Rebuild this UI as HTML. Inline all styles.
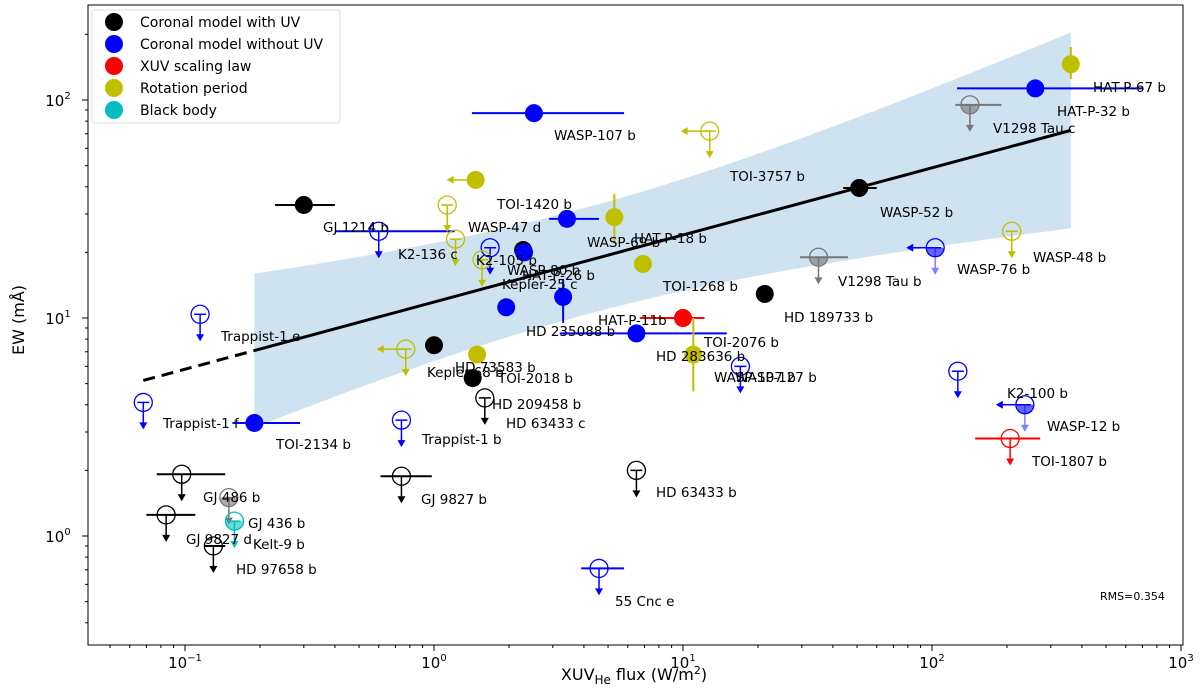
<!DOCTYPE html>
<html><head><meta charset="utf-8">
<style>
body{margin:0;background:#fff;}
svg{display:block;font-family:"DejaVu Sans","Liberation Sans",sans-serif;}
</style></head>
<body>
<svg id="chart" width="1200" height="688" viewBox="0 0 1200 688" xmlns="http://www.w3.org/2000/svg">
<g id="band-layer"></g>
<g id="fit-layer"></g>
<g id="pts"></g>
<g id="labels"></g>
<rect x="88" y="5" width="1095" height="640" fill="none" stroke="#000" stroke-width="1"/>
<g id="axes"></g>
<text x="1100" y="600" font-size="11">RMS=0.354</text>
<g>
<rect x="92" y="10" width="248" height="113" fill="#fff" stroke="#ddd" rx="3"/>
<circle cx="114" cy="22" r="9" fill="#000"/><text x="140" y="27" font-size="14">Coronal model with UV</text>
<circle cx="114" cy="44" r="9" fill="#0000ff"/><text x="140" y="49" font-size="14">Coronal model without UV</text>
<circle cx="114" cy="66" r="9" fill="#ff0000"/><text x="140" y="71" font-size="14">XUV scaling law</text>
<circle cx="114" cy="88" r="9" fill="#bfbf00"/><text x="140" y="93" font-size="14">Rotation period</text>
<circle cx="114" cy="110" r="9" fill="#00bfbf"/><text x="140" y="115" font-size="14">Black body</text>
</g>
<text x="634" y="680" font-size="16" text-anchor="middle">XUV<tspan font-size="12" dy="4">He</tspan><tspan dy="-4"> flux (W/m</tspan><tspan font-size="11" dy="-6">2</tspan><tspan dy="6">)</tspan></text>
<text transform="translate(24,320) rotate(-90)" font-size="16" text-anchor="middle">EW (mÅ)</text>
</svg>
<script>
// ---- data ----
const names=["GJ 1214 b*","WASP-47 d*","Kepler bk","TOI-2018 b*","WASP-52 b*","HD 189733 b*","WASP-107 b*","TOI-1420 b*","K2-105 bf","blue1","blue2","HD 235088 b*","TOI-2134 b*","HAT-P-32 b*","HAT-P-11b*","HAT-P-67 b*","y1","WASP-69 b*","HAT-P-18 y","HD 73583 b*","HD 283636 b*","GJ 1214 b","K2-105 b","Trappist-1 e","Trappist-1 f","Trappist-1 b","WASP-76 b","K2-100 b","WASP-12 b","55 Cnc e","TOI-2076 b","HD 63433 c","GJ 486 b","GJ 9827 d","HD 97658 b","GJ 9827 b","HD 63433 b","GJ 436 b","V1298 Tau c","V1298 Tau b","Kelt-9 b","Kepler-68 b","yo1","K2-136 c","yo2","TOI-3757 b","WASP-48 b","TOI-1807 b"];
const fluxes=[0.30,2.28,1.0,1.43,51,21.3,2.52,3.42,2.3,1.95,3.3,6.5,0.19,260,10,361,1.47,5.3,6.9,1.49,11,0.6,1.68,0.115,0.068,0.74,103,127,236,4.6,17,1.6,0.097,0.084,0.13,0.74,6.5,0.15,142,35,0.158,0.77,1.13,1.22,1.56,12.8,209,206];
const ews=[33,20.5,7.5,5.3,39.5,12.9,87,28.5,20,11.2,12.5,8.5,3.3,113,10,146,43,29,17.7,6.8,6.8,25,21,10.4,4.1,3.4,21,5.7,4,0.71,6,4.3,1.92,1.25,0.9,1.88,2.0,1.5,95,19,1.17,7.2,33,23,18.5,72,25,2.8];
const colors=["k","k","k","k","k","k","b","b","b","b","b","b","b","b","r","y","y","y","y","y","y","b","b","b","b","b","b","b","b","b","b","k","k","k","k","k","k","g","g","g","c","y","y","y","y","y","y","r"];
const kinds=["f","f","f","f","f","f","f","f","f","f","f","f","f","f","f","f","f","f","f","f","f","o","o","o","o","o","h","o","h","o","o","o","o","o","o","o","o","h","h","h","h","o","o","o","o","o","o","o"];
const downLim=[0,0,0,0,0,0,0,0,0,0,0,0,0,0,0,0,0,0,0,0,0,1,1,1,1,1,1,1,1,1,1,1,1,1,1,1,1,1,1,1,1,1,1,1,1,1,1,1];
const leftLim=[0,0,0,0,0,0,0,0,0,0,0,0,0,0,0,0,1,0,0,0,0,0,0,0,0,0,1,0,1,0,0,0,0,0,0,0,0,0,0,0,0,1,0,0,0,1,0,0];
const xLo=[0.23,0,0.95,0,44,0,1.42,2.9,0,0,0,3.2,0.155,126,6.7,0,0,0,0,0,0,0.4,0,0,0,0,0,0,0,3.9,0,0,0.077,0.070,0.12,0.61,0,0,124,29.5,0,0,0,0,0,0,0,149];
const xHi=[0.40,0,1.08,0,60,0,5.8,4.6,0,0,0,15,0.29,700,12.2,0,0,0,0,0,0,1.21,0,0,0,0,0,0,0,5.8,0,0,0.145,0.11,0.145,0.98,0,0,190,46,0,0,0,0,0,0,0,272];
const yLo=[0,0,0,0,0,0,0,0,0,0,9.5,0,0,0,0,125,0,22,0,6.2,4.6,0,0,0,0,0,0,0,0,0,0,0,0,0,0,0,0,0,0,0,0,0,0,0,0,0,0,0];
const yHi=[0,0,0,0,0,0,0,0,0,0,15,0,0,0,0,175,0,37,0,7.4,10,0,0,0,0,0,0,0,0,0,0,0,0,0,0,0,0,0,0,0,0,0,0,0,0,0,0,0];
const fitA=1.073, fitB=0.308;       // log EW = A + B log F
const fitRange=[0.19,361], dashStart=0.068;
const xTicks=[-1,0,1,2,3];
const yTicks=[0,1,2];
// ---- scales ----
const X=f=>185+(Math.log10(f)+1)*249;
const Y=e=>100+(2-Math.log10(e))*218;
const NS="http://www.w3.org/2000/svg";
function el(t,a,p){const e=document.createElementNS(NS,t);for(const k in a)e.setAttribute(k,a[k]);p.appendChild(e);return e;}
const C={k:"#000",b:"#0000ff",r:"#ff0000",y:"#bfbf00",c:"#00bfbf",g:"#777777"};
// band
const band=document.getElementById('band-layer');
let up=[],lo=[];
for(let i=0;i<=60;i++){const lf=Math.log10(fitRange[0])+(Math.log10(fitRange[1])-Math.log10(fitRange[0]))*i/60;
 const c=fitA+fitB*lf, w=Math.sqrt(0.06+0.037*(lf-0.6)**2);
 up.push([X(10**lf),Y(10**(c+w))]);lo.push([X(10**lf),Y(10**(c-w))]);}
const bp=el('polygon',{points:up.concat(lo.reverse()).map(p=>p.join(',')).join(' '),fill:'#cfe2ef'},band);


const fit=document.getElementById('fit-layer');
const fy=f=>Y(10**(fitA+fitB*Math.log10(f)));
const l1=el('line',{x1:X(fitRange[0]),y1:fy(fitRange[0]),x2:X(fitRange[1]),y2:fy(fitRange[1]),stroke:'#000','stroke-width':3},fit);


const l2=el('line',{x1:X(dashStart),y1:fy(dashStart),x2:X(fitRange[0]),y2:fy(fitRange[0]),stroke:'#000','stroke-width':3,'stroke-dasharray':'12,7'},fit);


// points
const pts=document.getElementById('pts');
for(let i=0;i<names.length;i++){
 const g=el('g',{},pts);
 
 
 const cx=X(fluxes[i]),cy=Y(ews[i]),col=C[colors[i]];
 const ac=kinds[i]==='h'&&colors[i]==='b'?'#8080ff':col;
 if(xLo[i])el('line',{x1:X(xLo[i]),y1:cy,x2:X(xHi[i]),y2:cy,stroke:col,'stroke-width':2},g);
 if(yLo[i])el('line',{x1:cx,y1:Y(yLo[i]),x2:cx,y2:Y(yHi[i]),stroke:col,'stroke-width':2},g);
 if(downLim[i]){el('line',{x1:cx-6,y1:cy,x2:cx+6,y2:cy,stroke:col,'stroke-width':1.5},g);
  el('line',{x1:cx,y1:cy,x2:cx,y2:cy+22,stroke:ac,'stroke-width':1.5},g);
  el('polygon',{points:`${cx-4},${cy+20} ${cx+4},${cy+20} ${cx},${cy+27}`,fill:ac},g);}
 if(leftLim[i]){el('line',{x1:cx,y1:cy,x2:cx-24,y2:cy,stroke:col,'stroke-width':1.5},g);
  el('polygon',{points:`${cx-22},${cy-4} ${cx-22},${cy+4} ${cx-29},${cy}`,fill:col},g);}
 if(kinds[i]==='f')el('circle',{cx,cy,r:9,fill:col},g);
 else{ if(kinds[i]==='h')el('path',{d:`M${cx-9},${cy} A9,9 0 0 0 ${cx+9},${cy} Z`,fill:col,'fill-opacity':0.6},g);
  el('circle',{cx,cy,r:9,fill:'none',stroke:col,'stroke-width':1.3},g);}
}
// labels (text positions)
const labs=[["GJ 1214 b",323,232],["WASP-107 b",554,140],["TOI-3757 b",730,181],["HAT-P-67 b",1093,92],["HAT-P-32 b",1057,116],["V1298 Tau c",993,133],["WASP-52 b",880,217],["WASP-47 d",468,232],["TOI-1420 b",497,209],["K2-136 c",398,259],["K2-105 b",476,265],["WASP-69 b",587,247],["HAT-P-18 b",634,243],["WASP-80 b",507,275],["HAT-P-26 b",522,280],["Kepler-25 c",502,289],["WASP-48 b",1033,262],["WASP-76 b",957,274],["V1298 Tau b",838,286],["TOI-1268 b",663,291],["HD 189733 b",784,322],["Trappist-1 e",221,341],["HAT-P-11b",598,325],["HD 235088 b",526,336],["TOI-2076 b",704,347],["HD 283636 b",656,361],["WASP-107 b",714,382],["WASP-127 b",735,382],["Kepler-68 b",427,377],["HD 73583 b",455,372],["TOI-2018 b",498,383],["HD 209458 b",492,409],["HD 63433 c",506,428],["Trappist-1 f",163,428],["TOI-2134 b",276,449],["Trappist-1 b",422,444],["K2-100 b",1007,398],["WASP-12 b",1047,431],["TOI-1807 b",1032,466],["GJ 486 b",203,502],["GJ 9827 b",421,504],["HD 63433 b",656,497],["GJ 436 b",248,528],["GJ 9827 d",186,544],["Kelt-9 b",253,549],["HD 97658 b",236,574],["55 Cnc e",615,606]];
const lg=document.getElementById('labels');
labs.forEach(l=>{const t=el('text',{x:l[1],y:l[2],'font-size':13.5},lg);t.textContent=l[0];
 
 });
// axes
const ax=document.getElementById('axes');
for(let d=-2;d<=3;d++)for(let m=1;m<10;m++){const v=10**d*m,x=X(v);if(x<88||x>1183)continue;
 el('line',{x1:x,y1:645,x2:x,y2:m===1?651:648,stroke:'#000'},ax);}
for(let d=-1;d<=2;d++)for(let m=1;m<10;m++){const v=10**d*m,y=Y(v);if(y<5||y>645)continue;
 el('line',{x1:88,y1:y,x2:m===1?82:85,y2:y,stroke:'#000'},ax);}
xTicks.forEach(t=>{const tx=el('text',{x:X(10**t),y:668,'font-size':15,'text-anchor':'middle'},ax);
 tx.innerHTML='10<tspan font-size="10" dy="-7">'+(t<0?'−'+(-t):t)+'</tspan>';
 
 });
yTicks.forEach(t=>{const tx=el('text',{x:58,y:Y(10**t)+6,'font-size':15,'text-anchor':'middle'},ax);
 tx.innerHTML='10<tspan font-size="10" dy="-7">'+t+'</tspan>';
 
 });
</script>
</body></html>
